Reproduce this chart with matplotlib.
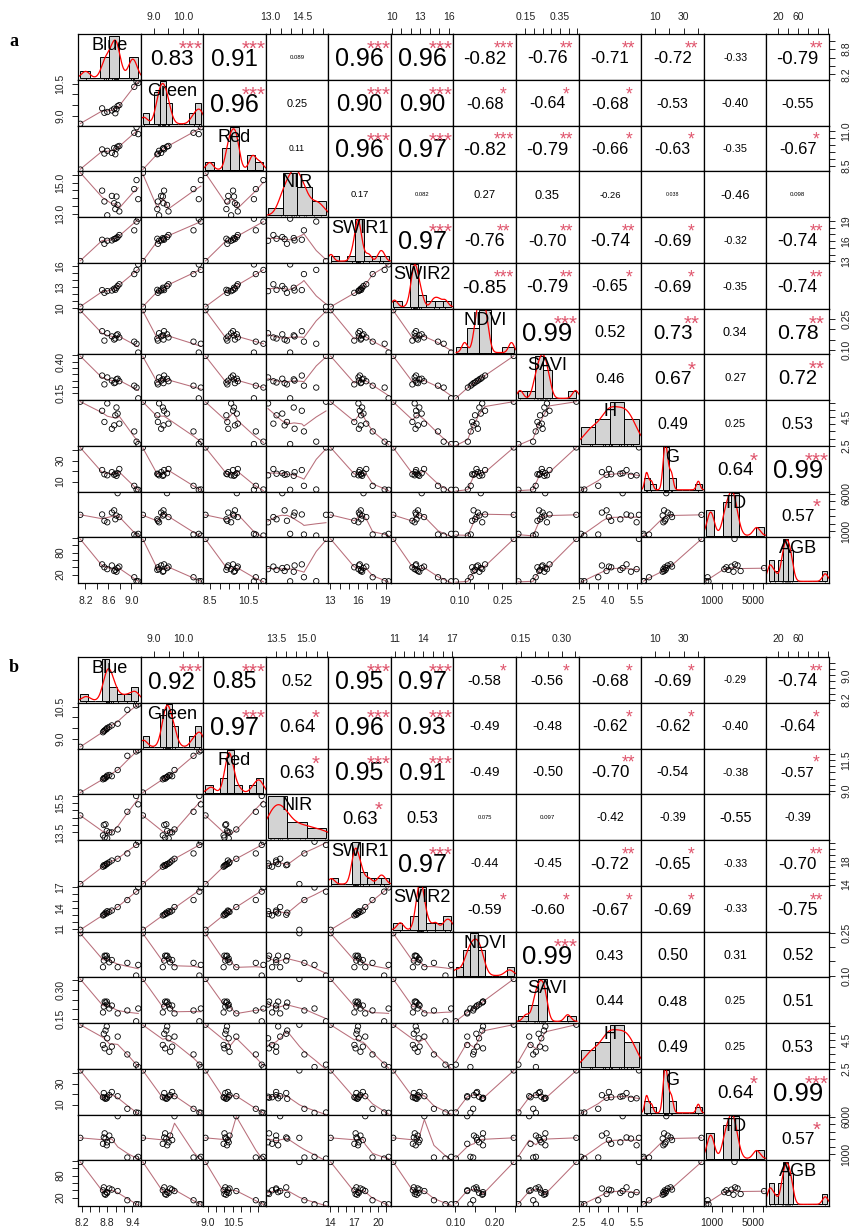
import numpy as np
import matplotlib
matplotlib.use('Agg')
import matplotlib.pyplot as plt
from matplotlib.transforms import blended_transform_factory

plt.rcParams['font.family'] = ['Liberation Sans', 'DejaVu Sans']

names = ['Blue', 'Green', 'Red', 'NIR', 'SWIR1', 'SWIR2', 'NDVI', 'SAVI', 'H', 'G', 'TD', 'AGB']

# field measurements (the same 13 plots in both panels)
h_field = [5.6, 4.96, 4.17, 5.48, 3.69, 3.93, 5.19, 4.76, 4.05, 3.5, 2.78, 2.61, 4.64]
g_field = [42.5, 21, 17, 16, 19, 16.5, 15.5, 18, 22, 6, 2.5, 2.2, 17.5]
td_field = [3200, 3250, 2400, 2200, 3500, 3800, 3100, 6100, 2900, 560, 420, 650, 2600]
agb_field = [117, 48, 40, 35, 45, 30, 28, 38, 42, 13, 2.5, 2, 33]

# panel a - spectral variables
blue_a = [8.11, 8.49, 8.53, 8.58, 8.66, 8.70, 8.74, 8.76, 8.79, 9.05, 9.09, 9.12, 8.72]
green_a = [8.63, 9.35, 9.14, 9.18, 9.25, 9.33, 9.31, 9.45, 9.50, 10.35, 10.60, 10.53, 9.12]
red_a = [8.25, 9.70, 9.40, 9.60, 9.45, 9.80, 9.75, 9.90, 9.95, 10.90, 11.30, 10.80, 9.35]
nir_a = [15.63, 14.49, 13.79, 12.90, 14.15, 13.68, 14.11, 13.57, 13.15, 14.59, 15.17, 13.94, 13.30]
swir1_a = [13.03, 16.20, 15.60, 16.05, 16.10, 16.30, 16.45, 16.60, 16.90, 17.60, 18.90, 19.33, 16.35]
swir2_a = [10.15, 12.56, 12.17, 12.41, 12.50, 12.76, 12.90, 13.15, 13.40, 14.87, 15.47, 16.26, 12.60]
ndvi_a = [0.290, 0.190, 0.145, 0.180, 0.165, 0.150, 0.170, 0.175, 0.160, 0.140, 0.130, 0.088, 0.155]
savi_a = [0.445, 0.290, 0.220, 0.275, 0.250, 0.230, 0.260, 0.265, 0.245, 0.210, 0.195, 0.110, 0.235]

# panel b - spectral variables
blue_b = [8.16, 8.72, 8.70, 8.79, 8.85, 8.74, 8.76, 9.05, 8.91, 9.28, 9.49, 9.54, 8.80]
green_b = [8.62, 9.35, 9.30, 9.45, 9.55, 9.38, 9.42, 9.70, 9.62, 10.35, 10.55, 10.60, 9.50]
red_b = [8.88, 10.05, 9.95, 10.15, 10.30, 10.00, 10.10, 10.70, 10.20, 11.85, 12.20, 12.30, 10.25]
nir_b = [14.65, 14.00, 13.30, 13.60, 13.50, 13.15, 14.05, 13.70, 13.50, 14.90, 15.97, 15.40, 13.10]
swir1_b = [14.10, 17.30, 17.05, 17.50, 17.80, 17.20, 17.40, 18.40, 18.10, 19.30, 20.75, 21.30, 17.60]
swir2_b = [10.85, 13.00, 12.90, 13.20, 13.40, 13.10, 13.30, 14.10, 13.60, 15.10, 16.30, 16.90, 13.50]
ndvi_b = [0.248, 0.153, 0.130, 0.170, 0.147, 0.170, 0.168, 0.130, 0.155, 0.145, 0.101, 0.138, 0.160]
savi_b = [0.355, 0.215, 0.185, 0.240, 0.205, 0.240, 0.235, 0.180, 0.220, 0.195, 0.140, 0.205, 0.225]

# printed correlation coefficients (upper triangle, row by row) and significance stars
cor_a = [
    [0.83, 0.91, 0.089, 0.96, 0.96, -0.82, -0.76, -0.71, -0.72, -0.33, -0.79],
    [0.96, 0.25, 0.90, 0.90, -0.68, -0.64, -0.68, -0.53, -0.40, -0.55],
    [0.11, 0.96, 0.97, -0.82, -0.79, -0.66, -0.63, -0.35, -0.67],
    [0.17, 0.082, 0.27, 0.35, -0.26, 0.038, -0.46, 0.098],
    [0.97, -0.76, -0.70, -0.74, -0.69, -0.32, -0.74],
    [-0.85, -0.79, -0.65, -0.69, -0.35, -0.74],
    [0.99, 0.52, 0.73, 0.34, 0.78],
    [0.46, 0.67, 0.27, 0.72],
    [0.49, 0.25, 0.53],
    [0.64, 0.99],
    [0.57],
]
stars_a = [
    ['***', '***', '', '***', '***', '***', '**', '**', '**', '', '**'],
    ['***', '', '***', '***', '*', '*', '*', '', '', ''],
    ['', '***', '***', '***', '**', '*', '*', '', '*'],
    ['', '', '', '', '', '', '', ''],
    ['***', '**', '**', '**', '*', '', '**'],
    ['***', '**', '*', '*', '', '**'],
    ['***', '', '**', '', '**'],
    ['', '*', '', '**'],
    ['', '', ''],
    ['*', '***'],
    ['*'],
]
cor_b = [
    [0.92, 0.85, 0.52, 0.95, 0.97, -0.58, -0.56, -0.68, -0.69, -0.29, -0.74],
    [0.97, 0.64, 0.96, 0.93, -0.49, -0.48, -0.62, -0.62, -0.40, -0.64],
    [0.63, 0.95, 0.91, -0.49, -0.50, -0.70, -0.54, -0.38, -0.57],
    [0.63, 0.53, 0.075, 0.097, -0.42, -0.39, -0.55, -0.39],
    [0.97, -0.44, -0.45, -0.72, -0.65, -0.33, -0.70],
    [-0.59, -0.60, -0.67, -0.69, -0.33, -0.75],
    [0.99, 0.43, 0.50, 0.31, 0.52],
    [0.44, 0.48, 0.25, 0.51],
    [0.49, 0.25, 0.53],
    [0.64, 0.99],
    [0.57],
]
stars_b = [
    ['***', '***', '', '***', '***', '*', '*', '*', '*', '', '**'],
    ['***', '*', '***', '***', '', '', '*', '*', '', '*'],
    ['*', '***', '***', '', '', '**', '', '', '*'],
    ['*', '', '', '', '', '', '', ''],
    ['***', '', '', '**', '*', '', '**'],
    ['*', '*', '*', '*', '', '**'],
    ['***', '', '', '', ''],
    ['', '', '', ''],
    ['', '', ''],
    ['*', '***'],
    ['*'],
]

# histogram bin widths
steps_a = [0.2, 0.2, 0.5, 1, 1, 1, 0.05, 0.05, 1, 5, 1000, 10]
steps_b = [0.2, 0.2, 0.5, 1, 1, 1, 0.02, 0.05, 1, 5, 1000, 10]

# axis ticks: positions, labels on column axis, labels on row axis
ticks_field = {
    'H': ([2.5, 3.0, 3.5, 4.0, 4.5, 5.0, 5.5], ['2.5', '4.0', '5.5'], ['2.5', '4.5']),
    'G': ([10, 20, 30, 40], ['10', '30'], ['10', '30']),
    'TD': ([1000, 2000, 3000, 4000, 5000, 6000], ['1000', '5000'], ['1000', '6000']),
    'AGB': ([20, 40, 60, 80, 100, 120], ['20', '60'], ['20', '80']),
}
ticks_a = {
    'Blue': ([8.2, 8.4, 8.6, 8.8, 9.0], ['8.2', '8.6', '9.0'], ['8.2', '8.8']),
    'Green': ([9.0, 9.5, 10.0, 10.5], ['9.0', '10.0'], ['9.0', '10.5']),
    'Red': ([8.5, 9.0, 9.5, 10.0, 10.5, 11.0], ['8.5', '10.5'], ['8.5', '11.0']),
    'NIR': ([13.0, 13.5, 14.0, 14.5, 15.0, 15.5], ['13.0', '14.5'], ['13.0', '15.0']),
    'SWIR1': ([13, 14, 15, 16, 17, 18, 19], ['13', '16', '19'], ['13', '16', '19']),
    'SWIR2': ([10, 11, 12, 13, 14, 15, 16], ['10', '13', '16'], ['10', '13', '16']),
    'NDVI': ([0.10, 0.15, 0.20, 0.25], ['0.10', '0.25'], ['0.10', '0.25']),
    'SAVI': ([0.15, 0.20, 0.25, 0.30, 0.35, 0.40, 0.45], ['0.15', '0.35'], ['0.15', '0.40']),
    **ticks_field,
}
ticks_b = {
    'Blue': ([8.2, 8.4, 8.6, 8.8, 9.0, 9.2, 9.4], ['8.2', '8.8', '9.4'], ['8.2', '9.0']),
    'Green': ([9.0, 9.5, 10.0, 10.5], ['9.0', '10.0'], ['9.0', '10.5']),
    'Red': ([9.0, 9.5, 10.0, 10.5, 11.0, 11.5, 12.0], ['9.0', '10.5'], ['9.0', '11.5']),
    'NIR': ([13.5, 14.0, 14.5, 15.0, 15.5, 16.0], ['13.5', '15.0'], ['13.5', '15.5']),
    'SWIR1': ([14, 15, 16, 17, 18, 19, 20, 21], ['14', '17', '20'], ['14', '18']),
    'SWIR2': ([11, 12, 13, 14, 15, 16, 17], ['11', '14', '17'], ['11', '14', '17']),
    'NDVI': ([0.10, 0.15, 0.20, 0.25], ['0.10', '0.20'], ['0.10', '0.25']),
    'SAVI': ([0.15, 0.20, 0.25, 0.30, 0.35], ['0.15', '0.30'], ['0.15', '0.30']),
    **ticks_field,
}

data_a = [blue_a, green_a, red_a, nir_a, swir1_a, swir2_a, ndvi_a, savi_a,
          h_field, g_field, td_field, agb_field]
data_b = [blue_b, green_b, red_b, nir_b, swir1_b, swir2_b, ndvi_b, savi_b,
          h_field, g_field, td_field, agb_field]

# layout in pixels
W, H = 853, 1231
X0, X1 = 78, 829
CW = (X1 - X0) / 12
CH = 549 / 12
TOP_A, TOP_B = 34, 657
STAR_COL = '#DF536B'
SMOOTH_COL = '#B86E7A'
TICK_KW = dict(length=4.5, width=0.7, pad=4.5, labelsize=7.5, colors='#222222')


def lowess(x, y, f=2 / 3, it=3):
    x = np.asarray(x, float)
    y = np.asarray(y, float)
    o = np.argsort(x, kind='stable')
    x, y = x[o], y[o]
    n = len(x)
    r = int(np.ceil(f * n))
    ys = np.zeros(n)
    rob = np.ones(n)
    for _ in range(it + 1):
        for i in range(n):
            d = np.abs(x - x[i])
            hh = max(np.sort(d)[r - 1], 1e-12)
            w = np.clip(d / hh, 0, 1)
            w = (1 - w ** 3) ** 3 * rob
            sw = w.sum()
            xm = (w * x).sum() / sw
            ym = (w * y).sum() / sw
            sxx = (w * (x - xm) ** 2).sum()
            b = (w * (x - xm) * (y - ym)).sum() / sxx if sxx > 1e-12 * np.ptp(x) ** 2 else 0.0
            ys[i] = ym + b * (x[i] - xm)
        res = y - ys
        s = np.median(np.abs(res))
        if s == 0:
            break
        u = np.clip(res / (6 * s), -1, 1)
        rob = (1 - u ** 2) ** 2
    return x, ys


def density(x):
    x = np.asarray(x, float)
    n = len(x)
    sd = x.std(ddof=1)
    q75, q25 = np.percentile(x, [75, 25])
    spread = min(sd, (q75 - q25) / 1.34) if q75 > q25 else sd
    bw = 0.9 * spread * n ** -0.2
    gx = np.linspace(x.min() - 3 * bw, x.max() + 3 * bw, 400)
    gd = np.exp(-0.5 * ((gx[:, None] - x[None, :]) / bw) ** 2).sum(1) / (n * bw * np.sqrt(2 * np.pi))
    return gx, gd


fig = plt.figure(figsize=(W / 100, H / 100), dpi=100)
renderer = fig.canvas.get_renderer()


def str_width(s, size):
    t = fig.text(0, 0, s, fontsize=size)
    w = t.get_window_extent(renderer).width
    t.remove()
    return w


def pt_to_px(size):
    return size * 100 / 72


lab_size = 10 * 0.92 * CW / max(str_width(n, 10) for n in names)


def pick(tk, labs):
    out = []
    for t in tk:
        out.append(next((l for l in labs if abs(float(l) - t) < 1e-9), ''))
    return out


def draw_panel(data, cors, stars, steps, ticks, top):
    n = len(names)
    lims = []
    for v in data:
        lo, hi = min(v), max(v)
        pad = 0.04 * (hi - lo)
        lims.append((lo - pad, hi + pad))

    for i in range(n):
        for j in range(n):
            rect = [(X0 + j * CW) / W, 1 - (top + (i + 1) * CH) / H, CW / W, CH / H]
            ax = fig.add_axes(rect)
            for sp in ax.spines.values():
                sp.set_linewidth(0.9)
            ax.tick_params(which='both', bottom=False, top=False, left=False, right=False,
                           labelbottom=False, labeltop=False, labelleft=False, labelright=False)

            if i == j:
                x = np.asarray(data[i], float)
                st = steps[i]
                lo = np.round(np.floor(x.min() / st + 1e-9) * st, 10)
                hi = np.round(np.ceil(x.max() / st - 1e-9) * st, 10)
                edges = np.round(np.arange(lo, hi + st / 2, st), 10)
                k = np.clip(np.searchsorted(edges, x, side='left') - 1, 0, len(edges) - 2)
                counts = np.bincount(k, minlength=len(edges) - 1)
                dens = counts / (len(x) * st)
                ax.bar(edges[:-1], dens, width=st, align='edge', color='#D3D3D3',
                       edgecolor='black', linewidth=0.7)
                gx, gd = density(x)
                ax.plot(gx, gd, color='red', lw=0.9)
                trans = blended_transform_factory(ax.transData, ax.transAxes)
                ax.vlines(x, 0, 0.03, transform=trans, colors='black', lw=0.6)
                span = edges[-1] - edges[0]
                ax.set_xlim(edges[0] - 0.04 * span, edges[-1] + 0.04 * span)
                ym = dens.max()
                ax.set_ylim(-0.04 * ym, 1.04 * ym)
                em = pt_to_px(lab_size)
                ax.text(0.5, 0.79 - 0.36 * em / CH, names[i], transform=ax.transAxes,
                        ha='center', va='baseline', fontsize=lab_size, zorder=5)
                continue

            ax.set_xlim(lims[j])
            ax.set_ylim(lims[i])

            if i > j:
                ax.scatter(data[j], data[i], s=15, facecolors='none', edgecolors='black',
                           linewidths=0.6, zorder=3)
                sx, sy = lowess(data[j], data[i])
                ax.plot(sx, sy, color=SMOOTH_COL, lw=0.75, zorder=2)
            else:
                r = cors[i][j - i - 1]
                txt = f'{r:.3f}' if abs(r) < 0.1 else f'{r:.2f}'
                base = 10 * 0.8 * CW / str_width(txt, 10)
                size = base * (abs(r) + 0.3) / 1.3
                ax.text(0.5, 0.5 - 0.36 * pt_to_px(size) / CH, txt, transform=ax.transAxes,
                        ha='center', va='baseline', fontsize=size)
                sig = stars[i][j - i - 1]
                if sig:
                    ssize = 0.8 * base
                    ax.text(0.8, 0.8 - 0.58 * pt_to_px(ssize) / CH, sig, transform=ax.transAxes,
                            ha='center', va='baseline', fontsize=ssize, color=STAR_COL)

            tk, lab_col, lab_row = ticks[names[j]]
            if i == 0 and j % 2 == 1:
                ax.set_xticks(tk)
                ax.set_xticklabels(pick(tk, lab_col))
                ax.tick_params(axis='x', top=True, labeltop=True, **TICK_KW)
            if i == n - 1 and j % 2 == 0:
                ax.set_xticks(tk)
                ax.set_xticklabels(pick(tk, lab_col))
                ax.tick_params(axis='x', bottom=True, labelbottom=True, **TICK_KW)
            tk, lab_col, lab_row = ticks[names[i]]
            if j == 0 and i % 2 == 1:
                ax.set_yticks(tk)
                ax.set_yticklabels(pick(tk, lab_row), rotation=90, va='center')
                ax.tick_params(axis='y', left=True, labelleft=True, **TICK_KW)
            if j == n - 1 and i % 2 == 0:
                ax.set_yticks(tk)
                ax.set_yticklabels(pick(tk, lab_row), rotation=90, va='center')
                ax.tick_params(axis='y', right=True, labelright=True, **TICK_KW)


draw_panel(data_a, cor_a, stars_a, steps_a, ticks_a, TOP_A)
draw_panel(data_b, cor_b, stars_b, steps_b, ticks_b, TOP_B)

fig.text(14 / W, 1 - 42 / H, 'a', fontsize=13, fontweight='bold',
         family=['Liberation Serif', 'DejaVu Serif'], ha='center', va='center')
fig.text(14 / W, 1 - 667 / H, 'b', fontsize=13, fontweight='bold',
         family=['Liberation Serif', 'DejaVu Serif'], ha='center', va='center')

fig.savefig('out.png', dpi=100)
